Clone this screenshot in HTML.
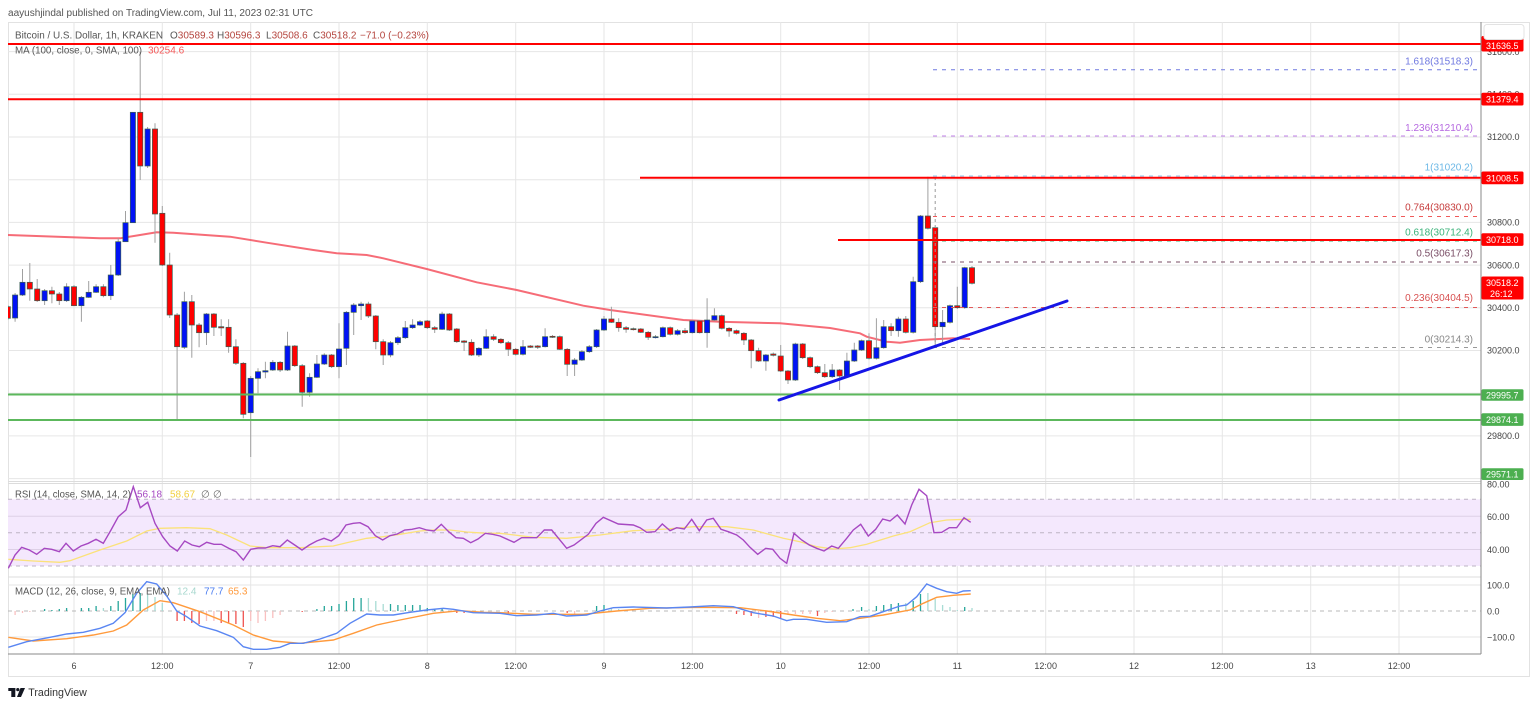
<!DOCTYPE html>
<html><head><meta charset="utf-8"><style>
html,body{margin:0;padding:0;background:#fff;}
svg{display:block;font-family:"Liberation Sans",sans-serif;}
</style></head><body>
<svg width="1536" height="707" viewBox="0 0 1536 707" xmlns="http://www.w3.org/2000/svg">
<defs>
<clipPath id="cm"><rect x="8" y="22" width="1473" height="459"/></clipPath>
<clipPath id="cr"><rect x="8" y="484" width="1473" height="92"/></clipPath>
<clipPath id="cd"><rect x="8" y="578" width="1473" height="76"/></clipPath>
</defs>
<rect width="1536" height="707" fill="#fff"/>
<text x="8" y="16" font-size="10" fill="#555" textLength="305" lengthAdjust="spacingAndGlyphs">aayushjindal published on TradingView.com, Jul 11, 2023 02:31 UTC</text>
<rect x="8.5" y="22.5" width="1521" height="654" fill="none" stroke="#e2e2e2"/>
<!-- vertical grid -->
<g stroke="#e6e6e6" stroke-width="1">
<path d="M74 22V654M162.3 22V654M250.7 22V654M339 22V654M427.3 22V654M515.7 22V654M604 22V654M692.3 22V654M780.7 22V654M869 22V654M957.3 22V654M1045.7 22V654M1134 22V654M1222.3 22V654M1310.7 22V654M1399 22V654"/>
<path d="M8 51.6H1481M8 94.3H1481M8 137H1481M8 179.7H1481M8 222.4H1481M8 265.1H1481M8 307.8H1481M8 350.5H1481M8 393.2H1481M8 435.9H1481M8 478.6H1481"/>
</g>
<!-- pane separators -->
<path d="M8 481.5H1481M8 483.5H1481M8 577H1481" stroke="#dcdcdc"/>
<!-- RSI background -->
<rect x="8" y="499.3" width="1473" height="66.7" fill="#f4e8fd"/>
<path d="M8 516.3H1481M8 549.5H1481" stroke="#ddd0e6"/>
<path d="M8 499.3H1481M8 532.7H1481M8 566H1481" stroke="#bdb4c4" stroke-dasharray="4 4"/>
<!-- MACD grid -->
<path d="M8 585H1481M8 637H1481" stroke="#e6e6e6"/>
<path d="M8 611H1481" stroke="#b8b8b8" stroke-dasharray="4 4"/>

<g clip-path="url(#cm)">
<!-- MA -->
<polyline fill="none" stroke="#f5525f" stroke-width="2" stroke-opacity="0.85" points="8,235 100,238.3 120,238.3 140,235 156.7,232.3 173.3,232.7 230,236.7 266.7,242.7 313.3,250 336.7,253.3 350,254 366.7,255 383.3,258.3 426.7,269 476.7,282.3 516.7,290 583.3,305.7 610,310 683.3,320 720,321.7 780,323.3 830,328 860,333.3 866.7,336.7 886.7,341.7 900,342.7 920,340 953.3,338.3 970,339"/>
<!-- wicks -->
<path fill="none" stroke="#a0a0a0" stroke-width="1" d="M7.8 305V320 M15.1 293V321.7 M22.5 269V296 M29.8 263V300.7 M37.2 279V302 M44.6 289V305 M51.9 286.7V303.3 M59.3 292V305 M66.6 283.3V302 M74 285V306 M81.4 296V321.7 M88.7 281V298 M96.1 284.3V293 M103.4 284.3V297.3 M110.8 265V300 M118.2 238.3V276 M125.5 211V242 M132.9 112V223 M140.2 52V180 M147.6 127V168 M155 123.3V242.7 M162.3 206V266 M169.7 252.7V318 M177.1 313V419.3 M184.4 291.7V349 M191.8 295V357.7 M199.1 323V347.3 M206.5 313V345 M213.9 313V336 M221.2 319.3V336 M228.6 319.3V352.7 M235.9 339.3V365 M243.3 362V418.3 M250.7 376V457 M258 368.3V393.3 M265.4 361.7V378.3 M272.8 360V371 M280.1 361V372 M287.5 331.7V371 M294.8 345V367 M302.2 364V406.7 M309.6 373.3V396.7 M316.9 355V378 M324.3 353.3V365 M331.6 354V368 M339 323.3V378.3 M346.4 311V365 M353.7 303V335 M361.1 301.7V320 M368.4 301.7V318 M375.8 315V349.3 M383.2 339.3V365 M390.5 341V357.3 M397.9 336V345 M405.3 321V339 M412.6 319.3V329 M420 320V326 M427.3 320V329 M434.7 326V333 M442.1 311.7V330 M449.4 313V331 M456.8 328V343 M464.1 340V351 M471.5 339.3V356 M478.9 347V357 M486.2 329.3V349 M493.6 334.3V341 M500.9 338V344 M508.3 341V356 M515.7 348V355.5 M523 340V355.5 M530.4 345V348 M537.7 345V349 M545.1 328.3V347.5 M552.5 335V338 M559.8 335.5V350 M567.2 348V376 M574.6 358V376 M581.9 350V361 M589.3 345V353 M596.6 329V348 M604 316V331 M611.4 306.7V323 M618.7 318.3V331.7 M626.1 326V332.7 M633.4 327.5V330.5 M640.8 328V333 M648.2 331V340 M655.5 335V338.5 M662.9 326.5V337.5 M670.2 326.5V335.5 M677.6 329V335.5 M685 328V334 M692.3 320V333.5 M699.7 320V333.5 M707.1 298.3V347.7 M714.4 308.3V321 M721.8 314.5V329.5 M729.1 327V336.7 M736.5 329.5V334.5 M743.9 332V345 M751.2 339V368.3 M758.6 347.7V362 M765.9 354V370.7 M773.3 352.5V356.5 M780.7 345V372 M788 370V384 M795.4 342.7V381 M802.7 343V359 M810.1 356.5V368 M817.5 365.5V374 M824.8 364V378 M832.2 364V378 M839.6 369V390 M846.9 352.7V377 M854.3 342.7V362 M861.6 339.5V351 M869 333.3V359.5 M876.4 318.3V359.5 M883.7 320V348.7 M891.1 323.3V336 M898.4 316.7V336.7 M905.8 316V333.5 M913.2 276.7V333.5 M920.5 215V283 M927.9 176.7V229.5 M935.2 226.5V347 M942.6 310V345 M950 304.5V323.5 M957.3 286.7V309 M964.7 266.7V308.7 M972 266V284.5"/>
<!-- red bodies -->
<g fill="#ff0000" stroke="#3a5e52" stroke-width="0.7">
<rect x="5.2" y="306.7" width="5.2" height="11.6"/><rect x="27.2" y="282.3" width="5.2" height="6.7"/><rect x="34.6" y="289" width="5.2" height="11.7"/><rect x="49.3" y="290.7" width="5.2" height="3.3"/><rect x="56.7" y="294" width="5.2" height="6.7"/><rect x="71.4" y="286.7" width="5.2" height="19"/><rect x="100.8" y="286.7" width="5.2" height="9"/><rect x="137.6" y="112.3" width="5.2" height="53.7"/><rect x="152.4" y="129" width="5.2" height="85"/><rect x="159.7" y="213.3" width="5.2" height="51.7"/><rect x="167.1" y="265" width="5.2" height="50"/><rect x="174.5" y="315" width="5.2" height="31.7"/><rect x="189.2" y="301.7" width="5.2" height="23.3"/><rect x="196.5" y="325" width="5.2" height="7.7"/><rect x="211.3" y="314" width="5.2" height="13.3"/><rect x="218.6" y="326.7" width="5.2" height="1.2"/><rect x="226" y="327.3" width="5.2" height="19.4"/><rect x="233.3" y="346.7" width="5.2" height="16.6"/><rect x="240.7" y="363.3" width="5.2" height="51"/><rect x="277.5" y="362.3" width="5.2" height="7.7"/><rect x="292.2" y="346" width="5.2" height="19.7"/><rect x="299.6" y="365.7" width="5.2" height="26.6"/><rect x="329" y="355" width="5.2" height="11.7"/><rect x="365.8" y="304" width="5.2" height="12"/><rect x="373.2" y="316" width="5.2" height="25.7"/><rect x="380.6" y="341.7" width="5.2" height="13.3"/><rect x="424.7" y="321" width="5.2" height="6.7"/><rect x="432.1" y="327.7" width="5.2" height="1.6"/><rect x="446.8" y="314" width="5.2" height="16"/><rect x="454.2" y="329" width="5.2" height="12.7"/><rect x="461.5" y="341" width="5.2" height="1.3"/><rect x="468.9" y="342.3" width="5.2" height="12.7"/><rect x="491" y="336.7" width="5.2" height="2.6"/><rect x="498.3" y="339.3" width="5.2" height="3.4"/><rect x="505.7" y="342.7" width="5.2" height="6.6"/><rect x="513.1" y="349.3" width="5.2" height="5"/><rect x="527.8" y="346" width="5.2" height="1.3"/><rect x="535.1" y="346" width="5.2" height="1.3"/><rect x="549.9" y="336.3" width="5.2" height="1"/><rect x="557.2" y="336.7" width="5.2" height="12.6"/><rect x="564.6" y="349.3" width="5.2" height="15"/><rect x="608.8" y="319" width="5.2" height="3.3"/><rect x="616.1" y="322.3" width="5.2" height="5.4"/><rect x="623.5" y="327.7" width="5.2" height="1.6"/><rect x="630.8" y="328.7" width="5.2" height="1"/><rect x="638.2" y="329" width="5.2" height="3.3"/><rect x="645.6" y="332.3" width="5.2" height="5"/><rect x="667.6" y="327.7" width="5.2" height="6.6"/><rect x="682.4" y="330.7" width="5.2" height="2"/><rect x="697.1" y="321" width="5.2" height="11.7"/><rect x="719.2" y="315.7" width="5.2" height="12.6"/><rect x="726.5" y="328.3" width="5.2" height="2.7"/><rect x="733.9" y="330.7" width="5.2" height="2.6"/><rect x="741.3" y="333.3" width="5.2" height="6.7"/><rect x="748.6" y="340" width="5.2" height="10.7"/><rect x="756" y="350.7" width="5.2" height="10.3"/><rect x="770.7" y="354" width="5.2" height="1.3"/><rect x="778.1" y="356" width="5.2" height="15"/><rect x="785.4" y="371" width="5.2" height="9"/><rect x="800.1" y="344" width="5.2" height="13.7"/><rect x="807.5" y="357.7" width="5.2" height="9"/><rect x="814.9" y="366.7" width="5.2" height="6"/><rect x="822.2" y="372.7" width="5.2" height="4"/><rect x="837" y="370" width="5.2" height="6"/><rect x="866.4" y="340.7" width="5.2" height="17.6"/><rect x="888.5" y="326.7" width="5.2" height="4"/><rect x="903.2" y="319" width="5.2" height="13.3"/><rect x="925.3" y="216" width="5.2" height="12.3"/><rect x="932.6" y="227.7" width="5.2" height="99"/><rect x="954.7" y="305.7" width="5.2" height="2"/><rect x="969.4" y="267.7" width="5.2" height="15.6"/>
</g>
<!-- blue bodies -->
<g fill="#0012f5" stroke="#3a5e52" stroke-width="0.7">
<rect x="12.5" y="295" width="5.2" height="23"/><rect x="19.9" y="282.3" width="5.2" height="12.7"/><rect x="42" y="290.7" width="5.2" height="10"/><rect x="64" y="286.7" width="5.2" height="14"/><rect x="78.8" y="297.3" width="5.2" height="8.4"/><rect x="86.1" y="292.3" width="5.2" height="5"/><rect x="93.5" y="286.7" width="5.2" height="5.6"/><rect x="108.2" y="275" width="5.2" height="20.7"/><rect x="115.6" y="241.7" width="5.2" height="33.3"/><rect x="122.9" y="222.7" width="5.2" height="19"/><rect x="130.3" y="112.3" width="5.2" height="110.4"/><rect x="145" y="129" width="5.2" height="37"/><rect x="181.8" y="301.7" width="5.2" height="45.6"/><rect x="203.9" y="314" width="5.2" height="18.7"/><rect x="248.1" y="378.3" width="5.2" height="34.4"/><rect x="255.4" y="371.7" width="5.2" height="6.6"/><rect x="262.8" y="370.7" width="5.2" height="1.3"/><rect x="270.2" y="362.3" width="5.2" height="7.7"/><rect x="284.9" y="346" width="5.2" height="24"/><rect x="307" y="377.3" width="5.2" height="15"/><rect x="314.3" y="364" width="5.2" height="13.3"/><rect x="321.7" y="355" width="5.2" height="9"/><rect x="336.4" y="349" width="5.2" height="17.7"/><rect x="343.8" y="312.3" width="5.2" height="36"/><rect x="351.1" y="305" width="5.2" height="7.3"/><rect x="358.5" y="304" width="5.2" height="1.7"/><rect x="387.9" y="342.7" width="5.2" height="12.3"/><rect x="395.3" y="337.7" width="5.2" height="5"/><rect x="402.7" y="327.7" width="5.2" height="10"/><rect x="410" y="325" width="5.2" height="2.7"/><rect x="417.4" y="321.7" width="5.2" height="3.3"/><rect x="439.5" y="314" width="5.2" height="15.3"/><rect x="476.3" y="348.3" width="5.2" height="6.7"/><rect x="483.6" y="336.7" width="5.2" height="11.6"/><rect x="520.4" y="346.7" width="5.2" height="7.6"/><rect x="542.5" y="336.7" width="5.2" height="10"/><rect x="572" y="360" width="5.2" height="4.3"/><rect x="579.3" y="351.7" width="5.2" height="8.3"/><rect x="586.7" y="346.7" width="5.2" height="5"/><rect x="594" y="330" width="5.2" height="16.7"/><rect x="601.4" y="319" width="5.2" height="11"/><rect x="652.9" y="336.7" width="5.2" height="1"/><rect x="660.3" y="327.7" width="5.2" height="9"/><rect x="675" y="330.7" width="5.2" height="3.6"/><rect x="689.7" y="321" width="5.2" height="11.7"/><rect x="704.5" y="320" width="5.2" height="12.7"/><rect x="711.8" y="315.7" width="5.2" height="4.3"/><rect x="763.3" y="355" width="5.2" height="6"/><rect x="792.8" y="344" width="5.2" height="36"/><rect x="829.6" y="370" width="5.2" height="6.7"/><rect x="844.3" y="361" width="5.2" height="15"/><rect x="851.7" y="350" width="5.2" height="11"/><rect x="859" y="340.7" width="5.2" height="9.3"/><rect x="873.8" y="347.7" width="5.2" height="10.6"/><rect x="881.1" y="326.7" width="5.2" height="21"/><rect x="895.8" y="319" width="5.2" height="11.7"/><rect x="910.6" y="281.7" width="5.2" height="50.6"/><rect x="917.9" y="216" width="5.2" height="65.7"/><rect x="940" y="322.3" width="5.2" height="4.4"/><rect x="947.4" y="305.7" width="5.2" height="16.6"/><rect x="962.1" y="267.7" width="5.2" height="40"/>
</g>
<!-- fib -->
<g fill="none" stroke-width="1" stroke-dasharray="4 5">
<path d="M933 69.7H1481" stroke="#6f78e0"/>
<path d="M933 136H1481" stroke="#c080e8"/>
<path d="M933 176H1481" stroke="#8cc8ee"/>
<path d="M933 216.5H1481" stroke="#f05a5a"/>
<path d="M933 241H1481" stroke="#3bb37a"/>
<path d="M933 262H1481" stroke="#7a4e66"/>
<path d="M933 307.5H1481" stroke="#e25a5a"/>
<path d="M933 347.5H1481" stroke="#999"/>
<path d="M935.2 177V347" stroke="#999" stroke-dasharray="3 3"/>
</g>
<g font-size="10" text-anchor="end">
<text x="1473" y="64.5" fill="#6f78e0">1.618(31518.3)</text>
<text x="1473" y="131" fill="#b568e0">1.236(31210.4)</text>
<text x="1473" y="170.5" fill="#6cb8e6">1(31020.2)</text>
<text x="1473" y="210.5" fill="#c63c3c">0.764(30830.0)</text>
<text x="1473" y="235.5" fill="#3bb37a">0.618(30712.4)</text>
<text x="1473" y="256.5" fill="#7a4e66">0.5(30617.3)</text>
<text x="1473" y="301" fill="#d85050">0.236(30404.5)</text>
<text x="1473" y="342.5" fill="#888">0(30214.3)</text>
</g>
<!-- horizontal levels -->
<g stroke-width="2" fill="none">
<path d="M8 44H1481M8 99.3H1481M640 177.8H1481M838 240H1481" stroke="#ff0000"/>
<path d="M8 394.5H1481M8 420H1481" stroke="#5cb85c"/>
</g>
<!-- trendline -->
<path d="M779 400L1067 301" stroke="#1515e6" stroke-width="3" stroke-linecap="round"/>
<!-- lightning icon -->
<circle cx="970" cy="497" r="7.5" fill="#fff" stroke="#a333c8" stroke-width="1.4"/>
<path d="M971.5 492L967.5 497.6H970.3L968.6 502L972.6 496.3H969.8Z" fill="#a333c8"/>
</g>

<!-- RSI -->
<g clip-path="url(#cr)" fill="none">
<polyline stroke="#fbe27a" stroke-width="1.3" points="8.3,559.3 33.3,561 60,562.3 70,560.7 100,550 126.7,541 146.7,531 160,528.3 186.7,527.7 210,528.7 226.7,535 250,546 266.7,547.7 300,547.7 333.3,546 346.7,542.7 366.7,538.3 383.3,536.7 400,534.3 420,531 433.3,530 450,530 466.7,532 486.7,533.3 500,533.3 533.3,537.3 566.7,538.3 583.3,536.7 600,535 633.3,530.7 666.7,529 693.3,526.7 726.7,526.7 753.3,530 783.3,538.3 800,541.7 816.7,546.7 833.3,549 850,547.7 866.7,544.3 893.3,536 910,531.7 930,522.7 946.7,520 966.7,519.3 970.7,519.3"/>
<polyline stroke="#a648c2" stroke-width="1.4" points="8.3,568.3 15,555 21.7,547.3 29.3,550 36.7,554.3 44.3,548.3 51.7,549.3 59.3,551.7 66,543.3 73.3,551 81,546 88.3,543.3 96,539.3 103.3,543.3 111,530 118.3,516.7 126,510 133.3,486.7 140.3,507.7 147.7,502.3 155,523.3 162.7,536.7 170,546 177.3,551 184.7,541 192,545 199.3,546.7 206.7,542.3 214,544.3 221.3,544.3 228.7,548.3 236,551.7 243.3,560 250.7,549.3 258,548 265.3,548 272.7,545.7 280,546.7 287.3,540 294.7,545 302,550 309.3,545 316.7,541 324,538.3 331.3,541 338.7,535.7 346,525 353.3,523.3 360,522.7 368,526.7 375.3,535.7 382.7,540 390,535.7 397.3,534 404.7,530 412,529.3 419.3,527.7 426.7,530 434,531 441.3,524.3 448.7,531.7 456,537.7 463.3,538.3 470.7,542.7 478,539 485.3,533.3 492.7,534.3 500,536 514,542.3 521.7,537.7 536.7,537.7 544.3,530 551.7,530 566.7,548.3 574,545 588.3,534.3 596,523.3 603.3,517.3 618.3,524 633.3,525 640,527.7 646.7,532.3 655,531.7 662.3,524 670,530.7 676.7,527.7 684.3,529 691.7,519.3 699.3,530.7 706.7,520 713.3,518.3 721,529.3 728.3,531.7 736.7,535 743.3,540 750,547.3 757.7,554.3 765.7,548.3 772.7,549.3 780,558.3 786.7,563.3 794,533.3 801.7,540 809.3,545 816.7,548.3 824,551 831.7,546 838.3,548.3 846.7,538.3 853.3,530 860.7,524.3 868.3,536 875.7,529.3 882.7,519 890,521 897.3,515 905,524 911.7,505 919,489.3 926.7,495.7 934,532.7 941.7,532.3 949.3,527.7 956.7,527.7 964,517.7 970.7,522.3"/>
</g>

<!-- MACD -->
<g clip-path="url(#cd)" fill="none">
<path stroke="#26a69a" stroke-width="1.3" d="M44.6 611V609 M51.9 611V610 M59.3 611V609 M66.6 611V608 M81.4 611V608 M88.7 611V608 M96.1 611V606 M110.8 611V606 M118.2 611V601 M125.5 611V598 M132.9 611V594 M140.2 611V593 M316.9 611V609 M324.3 611V606 M331.6 611V606 M339 611V604 M346.4 611V601 M353.7 611V598 M361.1 611V598 M390.5 611V604 M397.9 611V605 M405.3 611V605 M412.6 611V605 M420 611V605 M427.3 611V608 M434.7 611V609 M442.1 611V608 M596.6 611V606 M604 611V605 M853 611V609 M861.6 611V607 M876.4 611V606 M883.7 611V605 M891.1 611V604 M898.4 611V603 M913.2 611V601 M920.5 611V594 M964.7 611V607"/>
<path stroke="#a8dcd4" stroke-width="1.3" d="M103.4 611V608 M147.6 611V594 M155 611V597 M162.3 611V603 M368.4 611V598 M375.8 611V601 M383.2 611V604 M611.4 611V608 M618.7 611V609 M869 611V609 M905.8 611V603 M927.9 611V593 M935.2 611V599 M942.6 611V605 M950 611V607 M957.3 611V610 M972 611V608"/>
<path stroke="#ef5350" stroke-width="1.3" d="M177.1 611V621 M184.4 611V621 M191.8 611V623 M199.1 611V624 M221.2 611V623 M228.6 611V623 M235.9 611V624 M243.3 611V627 M302.2 611V612 M449.4 611V612 M456.8 611V613 M464.1 611V613 M508.3 611V614 M567.2 611V613 M736.5 611V614 M743.9 611V615 M751.2 611V616 M765.9 611V617 M773.3 611V617 M780.7 611V618 M817.5 611V616"/>
<path stroke="#f9c0c0" stroke-width="1.3" d="M15.1 611V615 M22.5 611V613 M29.8 611V612 M206.5 611V621 M213.9 611V621 M250.7 611V621 M258 611V623 M265.4 611V621 M272.8 611V618 M280.1 611V615 M471.5 611V613 M574.6 611V614 M758.6 611V618 M788 611V615 M795.4 611V614 M802.7 611V614 M810.1 611V614 M824.8 611V613 M832.2 611V612"/>
<polyline stroke="#ff9a3c" stroke-width="1.4" points="8.3,637.3 33.3,641 66.7,638.7 93.3,635 113.3,631 126.7,625 143.3,610 160,600.7 173.3,602.7 200,611.7 233.3,625 253.3,635 273.3,641 300,643.3 333.3,640 353.3,633.3 376.7,625 400,620 433.3,613.3 460,610.7 483.3,612.3 500,612.7 533.3,614.3 583.3,614.3 616.7,611 650,608.3 700,607.3 740,607.7 766.7,611 793.3,615 816.7,618.3 840,620.7 860,618.3 883.3,615 910,610 923.3,603.3 936.7,597.3 953.3,595.3 970.7,594"/>
<polyline stroke="#5a86f2" stroke-width="1.4" points="8.3,647.3 26.7,641.7 50,637.3 66.7,634 83.3,632.3 100,628.3 113.3,623.3 125,612.7 136.7,593.3 146.7,581.7 156.7,584 166.7,596 176.7,611 186.7,616.7 200,626 216.7,630.7 233.3,637.3 243.3,646.7 253.3,649.3 266.7,649.3 280,647.3 290,643.3 303.3,643.3 320,639 336.7,633.3 350,623.3 366.7,614 380,615 393.3,615 410,612.3 426.7,610 443.3,608.3 453.3,609.3 473.3,612.7 500,613.3 516.7,615.7 536.7,615 553.3,613.3 566.7,616 586.7,615 600,611 613.3,607.7 633.3,607 666.7,608 690,607 713.3,605.7 733.3,606.7 753.3,612.7 773.3,616 786.7,620.7 793.3,619.3 806.7,619.3 826.7,622.3 846.7,621.7 860,616.7 870,616.3 883.3,611.7 900,606 906.7,605 916.7,596.7 926.7,584 936.7,588.3 946.7,591.7 956.7,593.3 963.3,591 970.7,590.7"/>
</g>

<!-- legends -->
<g font-size="10">
<text x="15" y="38.5" fill="#555" textLength="148" lengthAdjust="spacingAndGlyphs">Bitcoin / U.S. Dollar, 1h, KRAKEN</text>
<text x="170" y="38.5" fill="#555">O<tspan fill="#b5453e">30589.3</tspan></text>
<text x="217" y="38.5" fill="#555">H<tspan fill="#b5453e">30596.3</tspan></text>
<text x="266" y="38.5" fill="#555">L<tspan fill="#b5453e">30508.6</tspan></text>
<text x="313" y="38.5" fill="#555">C<tspan fill="#b5453e">30518.2</tspan></text>
<text x="360" y="38.5" fill="#b5453e">−71.0 (−0.23%)</text>
<text x="15" y="53.5" fill="#555" textLength="127" lengthAdjust="spacingAndGlyphs">MA (100, close, 0, SMA, 100)</text>
<text x="148" y="53.5" fill="#f55a5a">30254.6</text>
<text x="15" y="497.5" fill="#555" textLength="116" lengthAdjust="spacingAndGlyphs">RSI (14, close, SMA, 14, 2)</text>
<text x="137" y="497.5" fill="#a648c2">56.18</text>
<text x="170" y="497.5" fill="#f2d040">58.67</text>
<text x="201" y="497.5" fill="#666">∅</text>
<text x="213" y="497.5" fill="#666">∅</text>
<text x="15" y="594.5" fill="#555" textLength="155" lengthAdjust="spacingAndGlyphs">MACD (12, 26, close, 9, EMA, EMA)</text>
<text x="177" y="594.5" fill="#a8d8cf">12.4</text>
<text x="204" y="594.5" fill="#4a7cf0">77.7</text>
<text x="228" y="594.5" fill="#ff9a3c">65.3</text>
</g>

<!-- axes -->
<path d="M1481 22V654M8 654H1481" stroke="#8a8a8a" stroke-width="1"/>
<g font-size="9" fill="#444">
<text x="1487" y="55">31600.0</text>
<text x="1487" y="97.5">31400.0</text>
<text x="1487" y="140.2">31200.0</text>
<text x="1487" y="225.6">30800.0</text>
<text x="1487" y="268.3">30600.0</text>
<text x="1487" y="311">30400.0</text>
<text x="1487" y="353.7">30200.0</text>
<text x="1487" y="439.1">29800.0</text>
<text x="1487" y="487.5">80.00</text>
<text x="1487" y="520">60.00</text>
<text x="1487" y="553">40.00</text>
<text x="1487" y="588.5">100.0</text>
<text x="1487" y="614.5">0.0</text>
<text x="1487" y="640.5">−100.0</text>
</g>
<!-- price boxes -->
<rect x="1481.5" y="36" width="42" height="15.5" rx="1.5" fill="#ff0000"/>
<text x="1486" y="49" font-size="9" fill="#fff">31636.5</text>
<rect x="1484" y="24.5" width="40" height="15" rx="3" fill="#fff" stroke="#e3e3e3"/>
<g font-size="9" fill="#fff">
<rect x="1481.5" y="92.7" width="42" height="12.8" rx="1.5" fill="#ff0000"/>
<text x="1486" y="102.5">31379.4</text>
<rect x="1481.5" y="171.5" width="42" height="12.8" rx="1.5" fill="#ff0000"/>
<text x="1486" y="181.3">31008.5</text>
<rect x="1481.5" y="233.3" width="42" height="12.6" rx="1.5" fill="#ff0000"/>
<text x="1486" y="243">30718.0</text>
<rect x="1481.5" y="276.5" width="42" height="23" rx="1.5" fill="#ff0000"/>
<text x="1486" y="286">30518.2</text>
<text x="1490" y="297">26:12</text>
<rect x="1481.5" y="389.3" width="42" height="11.5" rx="1.5" fill="#4caf50"/>
<text x="1486" y="398.3">29995.7</text>
<rect x="1481.5" y="413.3" width="42" height="12.6" rx="1.5" fill="#4caf50"/>
<text x="1486" y="423">29874.1</text>
<rect x="1481.5" y="468.3" width="42" height="11.7" rx="1.5" fill="#4caf50"/>
<text x="1486" y="477.5">29571.1</text>
</g>
<!-- time axis -->
<g font-size="9" fill="#444" text-anchor="middle">
<text x="74" y="669">6</text>
<text x="162.3" y="669">12:00</text>
<text x="250.7" y="669">7</text>
<text x="339" y="669">12:00</text>
<text x="427.3" y="669">8</text>
<text x="515.7" y="669">12:00</text>
<text x="604" y="669">9</text>
<text x="692.3" y="669">12:00</text>
<text x="780.7" y="669">10</text>
<text x="869" y="669">12:00</text>
<text x="957.3" y="669">11</text>
<text x="1045.7" y="669">12:00</text>
<text x="1134" y="669">12</text>
<text x="1222.3" y="669">12:00</text>
<text x="1310.7" y="669">13</text>
<text x="1399" y="669">12:00</text>
</g>
<!-- logo -->
<g fill="#131722">
<rect x="8.3" y="688" width="7" height="3"/>
<rect x="11.3" y="688" width="4" height="9"/>
<circle cx="17.8" cy="689.6" r="1.6"/>
<path d="M20.5 688H25L21 697H17Z"/>
</g>
<text x="28.3" y="696" font-size="11" fill="#333" textLength="58.5" lengthAdjust="spacingAndGlyphs">TradingView</text>
</svg>
</body></html>
